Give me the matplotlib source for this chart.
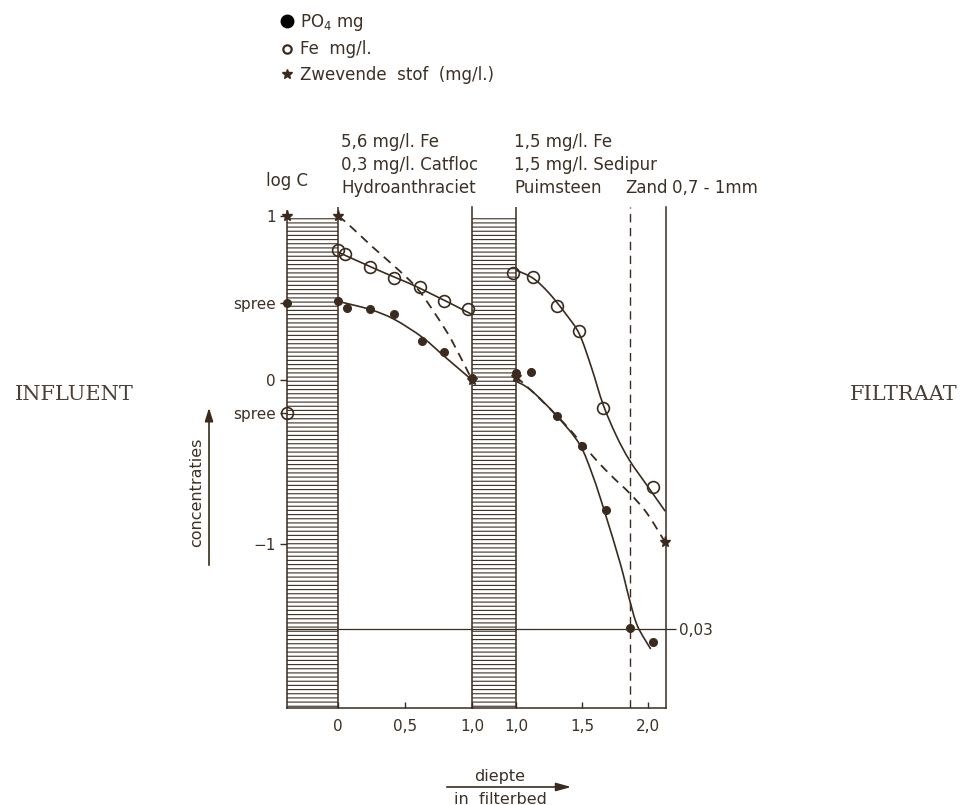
import matplotlib
matplotlib.use('Agg')
import matplotlib.pyplot as plt
from matplotlib.lines import Line2D
from matplotlib.path import Path
from matplotlib.patches import PathPatch, FancyArrowPatch

INK = '#3a2b1e'
TXT = '#3d3025'
HATCH = '#3f3024'

plt.rcParams['font.family'] = ['DejaVu Sans']
plt.rcParams['hatch.linewidth'] = 0.8
plt.rcParams['hatch.color'] = HATCH

# ---------------- data (log C) ----------------
influent_po4 = 0.47
influent_fe = -0.20
influent_zs = 1.00

# layer 1: Hydroanthraciet (depth 0 - 1.0 m)
depth_po4_1 = [0.00, 0.07, 0.24, 0.42, 0.63, 0.79, 1.00]
po4_1 = [0.48, 0.44, 0.43, 0.40, 0.24, 0.17, 0.01]
depth_fe_1 = [0.00, 0.05, 0.24, 0.42, 0.61, 0.79, 0.97]
fe_1 = [0.79, 0.77, 0.69, 0.62, 0.57, 0.48, 0.43]
depth_zs_1 = [0.00, 1.00]
zs_1 = [1.00, 0.00]

# fitted curves
curve_po4_1_x = [0.00, 0.24, 0.42, 0.63, 0.80, 1.00]
curve_po4_1_y = [0.48, 0.43, 0.37, 0.26, 0.14, 0.00]
curve_fe_1_x = [0.00, 0.30, 0.61, 1.00]
curve_fe_1_y = [0.78, 0.67, 0.56, 0.40]
curve_zs_1_x = [0.00, 0.07, 0.26, 0.44, 0.59, 0.72, 0.85, 1.00]
curve_zs_1_y = [1.00, 0.955, 0.81, 0.68, 0.56, 0.41, 0.24, 0.00]

# layer 2: Puimsteen + Zand (depth 1.0 - 2.13 m)
depth_po4_2 = [1.00, 1.11, 1.31, 1.50, 1.68, 1.86, 2.04]
po4_2 = [0.04, 0.05, -0.22, -0.40, -0.79, -1.51, -1.60]
depth_fe_2 = [0.98, 1.13, 1.31, 1.48, 1.66, 2.04]
fe_2 = [0.65, 0.63, 0.45, 0.30, -0.17, -0.65]
depth_zs_2 = [1.00, 2.13]
zs_2 = [0.02, -0.99]

curve_po4_2_x = [0.98, 1.11, 1.31, 1.48, 1.58, 1.67, 1.79, 1.86, 1.92, 2.02]
curve_po4_2_y = [0.00, -0.06, -0.22, -0.39, -0.58, -0.80, -1.12, -1.34, -1.50, -1.64]
curve_fe_2_x = [1.00, 1.13, 1.25, 1.38, 1.48, 1.57, 1.66, 1.76, 1.86, 1.99, 2.13]
curve_fe_2_y = [0.67, 0.62, 0.53, 0.40, 0.28, 0.08, -0.15, -0.34, -0.49, -0.64, -0.80]
curve_zs_2_x = [1.00, 1.15, 1.36, 1.48, 1.61, 1.73, 1.86, 1.99, 2.13]
curve_zs_2_y = [0.02, -0.09, -0.26, -0.37, -0.49, -0.59, -0.69, -0.81, -0.99]

level_003 = -1.52          # log10(0.03)
zand_boundary = 1.86

xticks_1 = [0.0, 0.5, 1.0]
xlabels_1 = ['0', '0,5', '1,0']
xticks_2 = [1.0, 1.5, 2.0]
xlabels_2 = ['1,0', '1,5', '2,0']
ylabels = ['1', 'spree', '0', 'spree', '\u22121']

# ---------------- figure ----------------
W, H = 968, 805
fig = plt.figure(figsize=(W / 100, H / 100), dpi=100)
fig.patch.set_facecolor('white')


def fx(px):
    return px / W


def fy(py):
    return 1 - py / H


def smooth_curve(ax, xs, ys, **kw):
    """Draw a smooth (Catmull-Rom) curve through the read curve points."""
    pts = list(zip(xs, ys))
    n = len(pts)
    verts = [pts[0]]
    codes = [Path.MOVETO]
    for i in range(n - 1):
        p0 = pts[i - 1] if i > 0 else pts[i]
        p1 = pts[i]
        p2 = pts[i + 1]
        p3 = pts[i + 2] if i + 2 < n else pts[i + 1]
        c1 = (p1[0] + (p2[0] - p0[0]) / 6, p1[1] + (p2[1] - p0[1]) / 6)
        c2 = (p2[0] - (p3[0] - p1[0]) / 6, p2[1] - (p3[1] - p1[1]) / 6)
        verts += [c1, c2, p2]
        codes += [Path.CURVE4] * 3
    ax.add_patch(PathPatch(Path(verts, codes), fill=False, **kw))


YMIN, YMAX = -2.0, 1.055
axL = fig.add_axes([fx(287), fy(708), fx(472) - fx(287), fy(207) - fy(708)])
axR = fig.add_axes([fx(472), fy(708), fx(666) - fx(472), fy(207) - fy(708)])
XL = (-0.38, 1.0)
XR = (0.667, 2.136)
axL.set_xlim(*XL)
axR.set_xlim(*XR)
for ax in (axL, axR):
    ax.set_ylim(YMIN, YMAX)
    ax.patch.set_alpha(0)
    ax.spines['top'].set_visible(False)
    for s in ax.spines.values():
        s.set_color(INK)
        s.set_linewidth(1.1)

axL.spines['left'].set_bounds(YMIN, 1.03)
axL.spines['right'].set_visible(True)
axR.spines['left'].set_visible(False)

# hatched bands (supernatant water layer and layer transition)
axL.fill_between([XL[0], 0.0], YMIN, 1.0, hatch='----', facecolor='none',
                 edgecolor=HATCH, linewidth=0)
axR.fill_between([XR[0], 1.0], YMIN, 1.0, hatch='----', facecolor='none',
                 edgecolor=HATCH, linewidth=0)
axL.axvline(0.0, color=INK, lw=1.1)
axR.axvline(1.0, color=INK, lw=1.1)
axR.axvline(zand_boundary, color=INK, lw=1.0, ls=(0, (6, 4)))

# 0,03 level
for ax in (axL, axR):
    ax.axhline(level_003, color=INK, lw=0.9)

# ticks
axL.set_xticks(xticks_1, xlabels_1)
axR.set_xticks(xticks_2, xlabels_2)
for ax in (axL, axR):
    ax.tick_params(axis='x', direction='in', length=4, width=1, color=INK,
                   labelsize=11, labelcolor=TXT, pad=8)
axL.set_yticks([influent_zs, influent_po4, 0.0, influent_fe, -1.0], ylabels)
axL.tick_params(axis='y', direction='out', length=5, width=1, color=INK,
                labelsize=11, labelcolor=TXT, pad=3)
axR.yaxis.tick_right()
axR.set_yticks([level_003], ['0,03'])
axR.tick_params(axis='y', direction='out', length=7, width=0.9, color=INK,
                labelsize=11, labelcolor=TXT, pad=2)

# curves
lw = 1.2
smooth_curve(axL, curve_po4_1_x, curve_po4_1_y, ec=INK, lw=lw)
smooth_curve(axL, curve_fe_1_x, curve_fe_1_y, ec=INK, lw=lw)
smooth_curve(axL, curve_zs_1_x, curve_zs_1_y, ec=INK, lw=1.3, ls=(0, (5, 3.5)))
smooth_curve(axR, curve_po4_2_x, curve_po4_2_y, ec=INK, lw=lw)
smooth_curve(axR, curve_fe_2_x, curve_fe_2_y, ec=INK, lw=lw)
smooth_curve(axR, curve_zs_2_x, curve_zs_2_y, ec=INK, lw=1.3, ls=(0, (5, 3.5)))

# markers
mk_po4 = dict(ls='none', marker='o', ms=5.5, color=INK, clip_on=False, zorder=5)
mk_fe = dict(ls='none', marker='o', ms=8.5, mfc='none', mec=INK, mew=1.2,
             clip_on=False, zorder=5)
mk_zs = dict(ls='none', marker='*', ms=8, color=INK, clip_on=False, zorder=5)

axL.plot(depth_po4_1, po4_1, **mk_po4)
axL.plot(depth_fe_1, fe_1, **mk_fe)
axL.plot(depth_zs_1, zs_1, **mk_zs)
axR.plot(depth_po4_2, po4_2, **mk_po4)
axR.plot(depth_fe_2, fe_2, **mk_fe)
axR.plot(depth_zs_2, zs_2, **mk_zs)

# influent values on the left edge of the water layer
axL.plot([XL[0]], [influent_po4], **mk_po4)
axL.plot([XL[0]], [influent_fe], **mk_fe)
axL.plot([XL[0]], [influent_zs], **mk_zs)

# legend
handles = [
    Line2D([], [], ls='none', marker='o', ms=9, color='black'),
    Line2D([], [], ls='none', marker='o', ms=6, mfc='none', mec=INK, mew=1.6),
    Line2D([], [], ls='none', marker='*', ms=7, color=INK),
]
labels = ['PO$_4$ mg', 'Fe  mg/l.', 'Zwevende  stof  (mg/l.)']
leg = fig.legend(handles, labels, loc='upper left',
                 bbox_to_anchor=(fx(282), fy(12)), frameon=False,
                 fontsize=12, handlelength=0.6, handletextpad=0.45,
                 labelspacing=0.45, borderaxespad=0, borderpad=0)
for t in leg.get_texts():
    t.set_color(TXT)

# header texts
tkw = dict(fontsize=12, color=TXT, va='center', ha='left')
fig.text(fx(341), fy(142), '5,6 mg/l. Fe', **tkw)
fig.text(fx(341), fy(165), '0,3 mg/l. Catfloc', **tkw)
fig.text(fx(341), fy(188), 'Hydroanthraciet', **tkw)
fig.text(fx(514), fy(142), '1,5 mg/l. Fe', **tkw)
fig.text(fx(514), fy(165), '1,5 mg/l. Sedipur', **tkw)
fig.text(fx(514), fy(188), 'Puimsteen', **tkw)
fig.text(fx(625), fy(188), 'Zand', **tkw)
fig.text(fx(672), fy(188), '0,7 - 1mm', **tkw)
fig.text(fx(266), fy(181), 'log C', **tkw)

# side labels
skw = dict(fontsize=15, color='#4a4038', family='DejaVu Serif',
           va='center', ha='center')
fig.text(fx(74), fy(395), 'INFLUENT', **skw)
fig.text(fx(904), fy(395), 'FILTRAAT', **skw)

# axis descriptions with arrows
fig.text(fx(197), fy(492), 'concentraties', rotation=90, fontsize=11.5,
         color=TXT, ha='center', va='center')
fig.add_artist(FancyArrowPatch(
    (fx(209), fy(568)), (fx(209), fy(405)), transform=fig.transFigure,
    arrowstyle='-|>,head_length=8,head_width=2.5', color=INK, lw=1.2))
fig.text(fx(500), fy(776), 'diepte', fontsize=11.5, color=TXT,
         ha='center', va='center')
fig.text(fx(500), fy(799), 'in  filterbed', fontsize=11.5, color=TXT,
         ha='center', va='center')
fig.add_artist(FancyArrowPatch(
    (fx(444), fy(787)), (fx(574), fy(787)), transform=fig.transFigure,
    arrowstyle='-|>,head_length=9,head_width=2.5', color=INK, lw=1.2))

fig.savefig('out.png', dpi=100, facecolor='white')
